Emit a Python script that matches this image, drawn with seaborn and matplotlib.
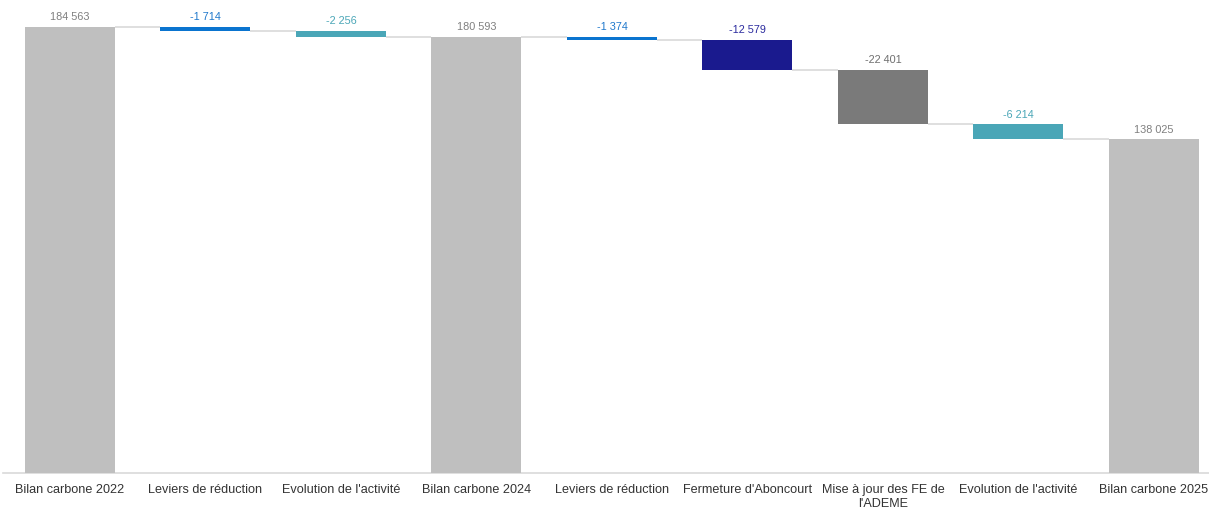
import matplotlib
matplotlib.use("Agg")
import matplotlib.pyplot as plt
import seaborn as sns
import pandas as pd

categories = ["Bilan carbone 2022", "Leviers de réduction", "Evolution de l'activité",
              "Bilan carbone 2024", "Leviers de réduction", "Fermeture d'Aboncourt",
              "Mise à jour des FE de\nl'ADEME", "Evolution de l'activité", "Bilan carbone 2025"]
values = [184563, -1714, -2256, 180593, -1374, -12579, -22401, -6214, 138025]
is_total = [True, False, False, True, False, False, False, False, True]
bar_colors = ["#BFBFBF", "#0A74CF", "#4AA6B7", "#BFBFBF", "#0A74CF", "#1A1A8E",
              "#7A7A7A", "#4AA6B7", "#BFBFBF"]
label_colors = ["#7F7F7F", "#1F78CC", "#4AA6B7", "#7F7F7F", "#1F78CC", "#2B2B9E",
                "#6E6E6E", "#4AA6B7", "#7F7F7F"]

# waterfall geometry
bottoms, heights, levels = [], [], []
level = 0
for v, t in zip(values, is_total):
    if t:
        bottoms.append(0); heights.append(v); level = v
    else:
        bottoms.append(level + v); heights.append(-v); level = level + v
    levels.append(level)

df = pd.DataFrame({"pos": list(range(len(values))), "height": heights})

sns.set_theme(style="white")
plt.rcParams['font.family'] = ['Liberation Sans', 'DejaVu Sans']

fig = plt.figure(figsize=(12.09, 5.08), dpi=100)
ax = fig.add_axes([3/1209, 35/508, 1206/1209, 473/508])

sns.barplot(data=df, x="pos", y="height", ax=ax, width=0.664, color="#BFBFBF",
            saturation=1, order=list(range(len(values))))

for p, b, c in zip(ax.patches, bottoms, bar_colors):
    p.set_y(b)
    p.set_facecolor(c)
    p.set_edgecolor("none")
    p.set_zorder(3)

# connectors
w = 0.664
for i in range(len(values) - 1):
    ax.plot([i + w/2, i + 1 - w/2], [levels[i], levels[i]], color="#D9D9D9",
            lw=1.2, zorder=2, solid_capstyle="butt")

# value labels
for i, (v, b, h, lc) in enumerate(zip(values, bottoms, heights, label_colors)):
    txt = f"{v:,}".replace(",", " ")
    ax.annotate(txt, (i, b + h), xytext=(0, 3.5), textcoords="offset points",
                ha="center", va="bottom", fontsize=7.8, color=lc)

ax.set_xlim(-0.494, 8.406)
ax.set_ylim(0, 195730)
ax.set_xlabel("")
ax.set_ylabel("")
ax.set_yticks([])
ax.set_xticks(range(len(categories)))
ax.set_xticklabels(categories, fontsize=9.1, color="#333333", linespacing=1.2)
ax.tick_params(axis="x", length=0, pad=8)
for s in ["top", "right", "left"]:
    ax.spines[s].set_visible(False)
ax.spines["bottom"].set_color("#D9D9D9")
ax.spines["bottom"].set_linewidth(1.2)

fig.savefig("out.png", dpi=100)
